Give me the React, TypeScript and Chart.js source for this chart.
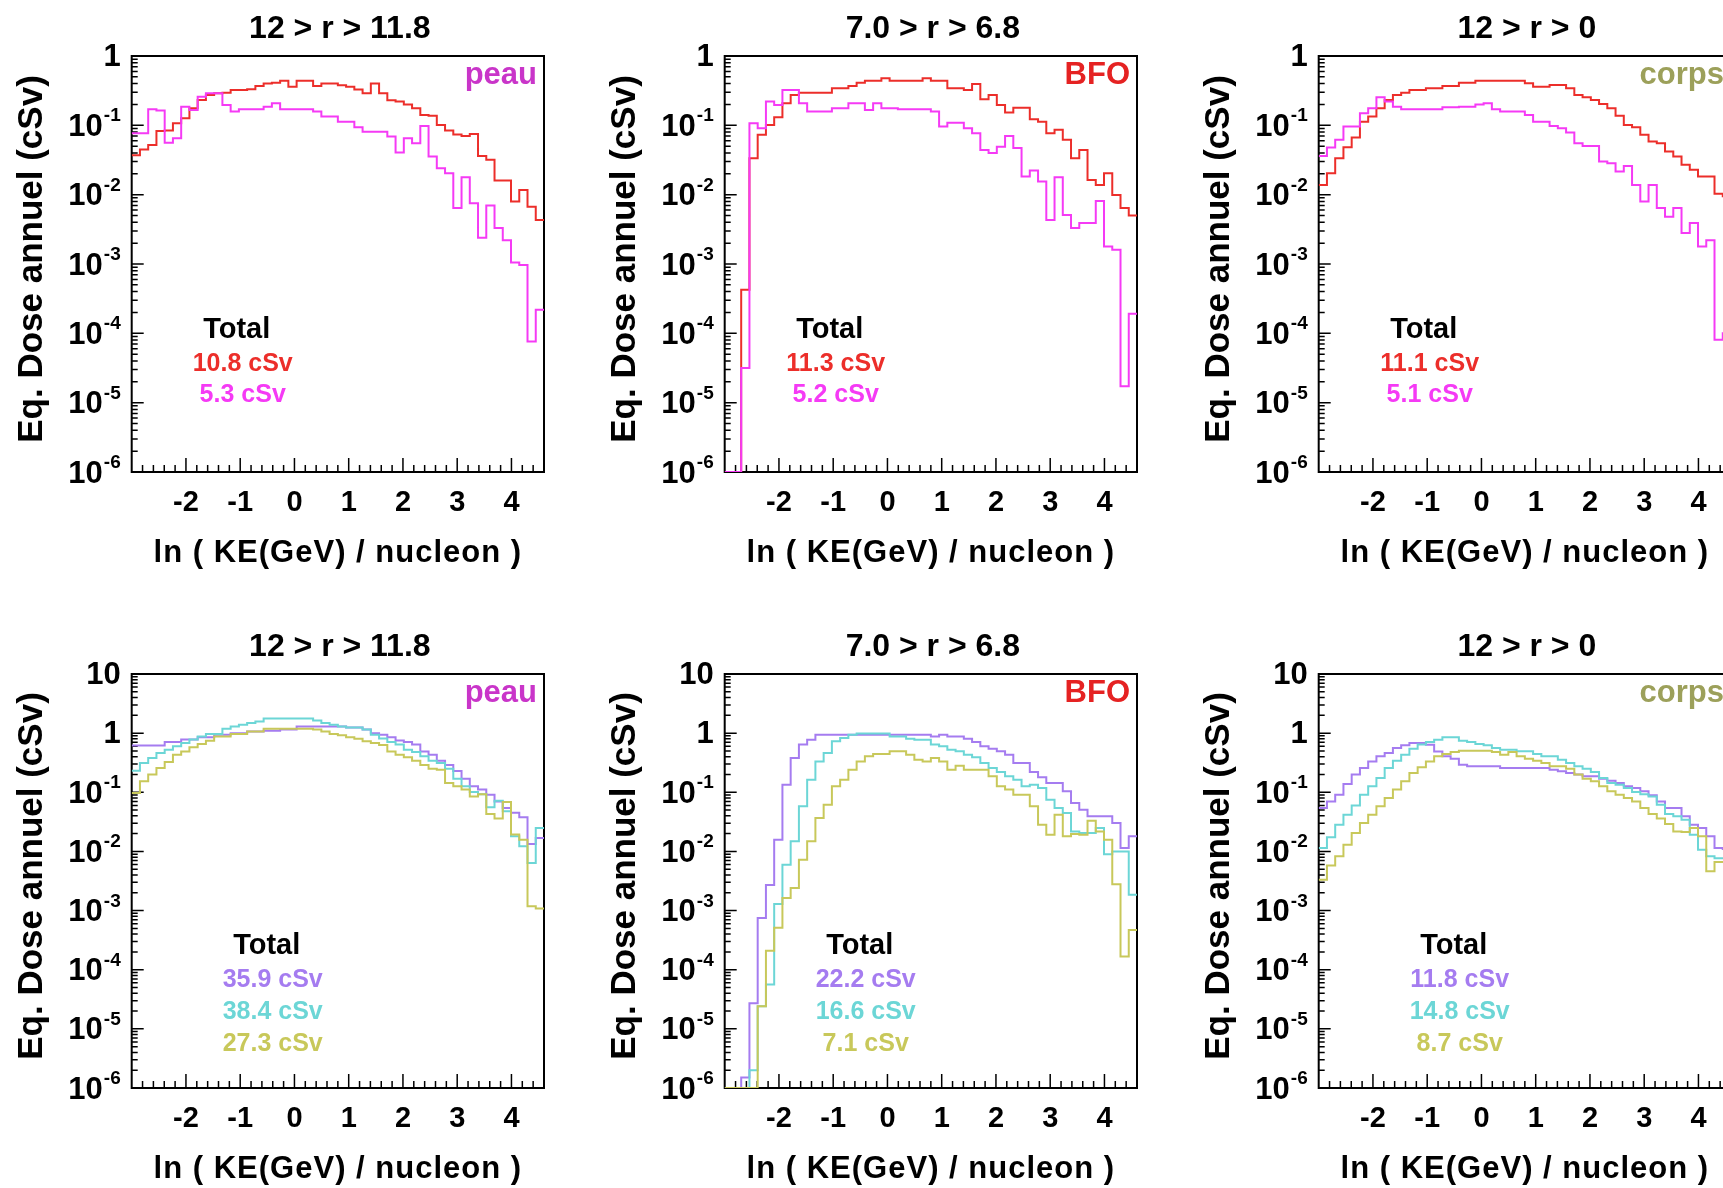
import React, { useEffect, useRef } from "react";
import { Chart, registerables } from "chart.js";
Chart.register(...registerables);

// ---------- DATA ----------
// bin edges in ln(KE(GeV)/nucleon), 50 bins from -3.0 to 4.6
const binEdges = [
  -3.0, -2.848, -2.696, -2.544, -2.392, -2.24, -2.088, -1.936, -1.784, -1.632,
  -1.48, -1.328, -1.176, -1.024, -0.872, -0.72, -0.568, -0.416, -0.264, -0.112,
  0.04, 0.192, 0.344, 0.496, 0.648, 0.8, 0.952, 1.104, 1.256, 1.408,
  1.56, 1.712, 1.864, 2.016, 2.168, 2.32, 2.472, 2.624, 2.776, 2.928,
  3.08, 3.232, 3.384, 3.536, 3.688, 3.84, 3.992, 4.144, 4.296, 4.448, 4.6,
];
const xTickValues = [-2, -1, 0, 1, 2, 3, 4];
const xTickLabels = ["-2", "-1", "0", "1", "2", "3", "4"];
const xTitle = "ln ( KE(GeV) / nucleon )";
const yTitle = "Eq. Dose annuel (cSv)";
const panelTitles = ["12 > r > 11.8", "7.0 > r > 6.8", "12 > r > 0"];
const regionLabels = ["peau", "BFO", "corps"];
const regionColors = ["#c935c9", "#e52222", "#9ca05a"];
const topDecades = [0, -1, -2, -3, -4, -5, -6];
const bottomDecades = [1, 0, -1, -2, -3, -4, -5, -6];

// top row (red / magenta)
const peauTopRed = [0.037, 0.045, 0.052, 0.083, 0.084, 0.107, 0.126, 0.176, 0.232, 0.274, 0.29, 0.296, 0.324, 0.324, 0.331, 0.37, 0.4, 0.41, 0.44, 0.36, 0.44, 0.44, 0.37, 0.4, 0.4, 0.38, 0.36, 0.33, 0.29, 0.4, 0.29, 0.23, 0.22, 0.2, 0.176, 0.141, 0.137, 0.101, 0.084, 0.074, 0.07, 0.075, 0.036, 0.032, 0.016, 0.016, 0.008, 0.0117, 0.0067, 0.0043];
const peauTopMagenta = [0.077, 0.077, 0.17, 0.163, 0.056, 0.065, 0.186, 0.167, 0.259, 0.29, 0.29, 0.197, 0.158, 0.17, 0.17, 0.17, 0.186, 0.208, 0.17, 0.17, 0.17, 0.17, 0.158, 0.134, 0.134, 0.113, 0.113, 0.094, 0.081, 0.081, 0.081, 0.069, 0.0405, 0.065, 0.055, 0.098, 0.0355, 0.024, 0.0204, 0.0064, 0.0179, 0.0075, 0.0024, 0.007, 0.0033, 0.0022, 0.00105, 0.00097, 0.0000765, 0.000219];
const bfoTopRed = [1e-6, 1e-6, 0.000425, 0.0335, 0.073, 0.101, 0.131, 0.208, 0.274, 0.296, 0.296, 0.296, 0.296, 0.342, 0.342, 0.37, 0.413, 0.441, 0.441, 0.477, 0.441, 0.441, 0.441, 0.441, 0.477, 0.441, 0.441, 0.342, 0.342, 0.324, 0.395, 0.238, 0.274, 0.197, 0.153, 0.18, 0.18, 0.122, 0.113, 0.077, 0.086, 0.062, 0.0335, 0.044, 0.0163, 0.0138, 0.0204, 0.0099, 0.0064, 0.005];
const bfoTopMagenta = [1e-6, 1e-6, 0.0000316, 0.107, 0.091, 0.22, 0.197, 0.324, 0.324, 0.208, 0.158, 0.158, 0.158, 0.176, 0.176, 0.208, 0.208, 0.167, 0.208, 0.176, 0.176, 0.17, 0.17, 0.17, 0.17, 0.158, 0.096, 0.109, 0.109, 0.091, 0.077, 0.044, 0.04, 0.049, 0.07, 0.047, 0.0183, 0.0223, 0.0155, 0.0043, 0.0179, 0.0051, 0.0033, 0.0039, 0.0039, 0.0081, 0.00179, 0.0016, 0.0000172, 0.000192];
const corpsTopRed = [0.0138, 0.0204, 0.0335, 0.0483, 0.0666, 0.113, 0.134, 0.176, 0.232, 0.274, 0.296, 0.324, 0.324, 0.342, 0.342, 0.37, 0.37, 0.413, 0.413, 0.441, 0.441, 0.441, 0.441, 0.441, 0.441, 0.404, 0.361, 0.361, 0.382, 0.382, 0.342, 0.274, 0.254, 0.232, 0.203, 0.176, 0.137, 0.101, 0.094, 0.073, 0.0583, 0.0552, 0.0418, 0.0355, 0.0269, 0.0228, 0.0183, 0.0183, 0.0103, 0.0095];
const corpsTopMagenta = [0.036, 0.048, 0.062, 0.096, 0.096, 0.149, 0.176, 0.254, 0.22, 0.186, 0.17, 0.17, 0.17, 0.17, 0.17, 0.182, 0.182, 0.186, 0.186, 0.2, 0.208, 0.17, 0.158, 0.158, 0.158, 0.141, 0.113, 0.113, 0.098, 0.091, 0.0786, 0.0552, 0.0505, 0.0505, 0.03, 0.0284, 0.0216, 0.026, 0.0138, 0.008, 0.0138, 0.0064, 0.0048, 0.0064, 0.0028, 0.0039, 0.00179, 0.0022, 0.000081, 0.0001];

// bottom row (purple / cyan / olive)
const peauBotPurple = [0.62, 0.62, 0.62, 0.62, 0.71, 0.71, 0.78, 0.78, 0.85, 0.85, 0.94, 0.94, 1.0, 1.0, 1.07, 1.07, 1.1, 1.1, 1.15, 1.15, 1.3, 1.3, 1.3, 1.3, 1.3, 1.3, 1.25, 1.25, 1.15, 1.0, 0.94, 0.85, 0.75, 0.71, 0.64, 0.49, 0.43, 0.34, 0.29, 0.23, 0.17, 0.126, 0.111, 0.091, 0.07, 0.054, 0.045, 0.038, 0.0133, 0.0169];
const peauBotCyan = [0.232, 0.313, 0.38, 0.46, 0.525, 0.6, 0.68, 0.78, 0.88, 0.97, 0.97, 1.19, 1.3, 1.39, 1.48, 1.58, 1.76, 1.76, 1.76, 1.76, 1.76, 1.76, 1.63, 1.48, 1.39, 1.3, 1.25, 1.25, 1.15, 0.94, 0.81, 0.71, 0.64, 0.525, 0.48, 0.405, 0.342, 0.313, 0.251, 0.17, 0.126, 0.101, 0.093, 0.056, 0.072, 0.048, 0.018, 0.0122, 0.0064, 0.025];
const peauBotOlive = [0.097, 0.153, 0.2, 0.258, 0.325, 0.43, 0.49, 0.575, 0.656, 0.746, 0.88, 0.88, 0.97, 0.97, 1.07, 1.07, 1.19, 1.19, 1.19, 1.19, 1.19, 1.19, 1.15, 1.07, 0.97, 0.92, 0.85, 0.8, 0.726, 0.68, 0.63, 0.49, 0.43, 0.39, 0.342, 0.29, 0.25, 0.24, 0.144, 0.126, 0.111, 0.085, 0.093, 0.043, 0.036, 0.0685, 0.0193, 0.0157, 0.00118, 0.00108];
const bfoBotPurple = [1e-6, 1e-6, 1.5e-6, 0.000027, 0.00075, 0.0027, 0.0158, 0.134, 0.38, 0.64, 0.776, 0.94, 0.94, 0.94, 0.94, 0.94, 0.94, 0.94, 0.94, 0.94, 0.94, 0.94, 0.94, 0.94, 0.94, 0.88, 0.94, 0.88, 0.88, 0.805, 0.708, 0.598, 0.546, 0.492, 0.432, 0.313, 0.313, 0.22, 0.179, 0.144, 0.144, 0.104, 0.0658, 0.0508, 0.0392, 0.0392, 0.0392, 0.0302, 0.0114, 0.018];
const bfoBotCyan = [1e-6, 1e-6, 1e-6, 2e-6, 0.000024, 0.000056, 0.00129, 0.00597, 0.0148, 0.0578, 0.163, 0.333, 0.461, 0.726, 0.828, 0.94, 0.99, 0.99, 0.99, 0.99, 0.88, 0.88, 0.8, 0.776, 0.776, 0.64, 0.598, 0.525, 0.492, 0.432, 0.39, 0.313, 0.257, 0.22, 0.186, 0.163, 0.126, 0.134, 0.118, 0.075, 0.054, 0.0446, 0.0218, 0.0205, 0.0205, 0.0249, 0.009, 0.01, 0.01, 0.00185];
const bfoBotOlive = [1e-6, 1e-6, 1e-6, 1e-6, 0.000024, 0.00021, 0.00051, 0.00163, 0.0024, 0.00725, 0.0148, 0.0367, 0.0616, 0.126, 0.163, 0.241, 0.333, 0.405, 0.444, 0.444, 0.492, 0.492, 0.432, 0.356, 0.333, 0.38, 0.333, 0.241, 0.28, 0.241, 0.241, 0.241, 0.186, 0.126, 0.111, 0.091, 0.091, 0.0578, 0.0283, 0.0192, 0.0418, 0.018, 0.0197, 0.0192, 0.0331, 0.0218, 0.0158, 0.0028, 0.000168, 0.00047];
const corpsBotPurple = [0.054, 0.07, 0.091, 0.138, 0.2, 0.258, 0.333, 0.405, 0.461, 0.561, 0.622, 0.68, 0.68, 0.638, 0.49, 0.405, 0.37, 0.293, 0.275, 0.275, 0.275, 0.275, 0.258, 0.258, 0.258, 0.258, 0.258, 0.258, 0.241, 0.226, 0.212, 0.2, 0.186, 0.186, 0.17, 0.157, 0.144, 0.126, 0.118, 0.104, 0.0887, 0.07, 0.054, 0.054, 0.0392, 0.0283, 0.0249, 0.018, 0.0114, 0.011];
const corpsBotCyan = [0.0114, 0.0173, 0.0283, 0.0418, 0.06, 0.091, 0.126, 0.174, 0.258, 0.342, 0.432, 0.546, 0.64, 0.708, 0.776, 0.85, 0.85, 0.746, 0.708, 0.656, 0.622, 0.561, 0.525, 0.525, 0.492, 0.492, 0.444, 0.405, 0.405, 0.356, 0.313, 0.275, 0.251, 0.22, 0.174, 0.144, 0.134, 0.118, 0.101, 0.093, 0.085, 0.0616, 0.043, 0.0392, 0.0344, 0.0192, 0.0107, 0.0083, 0.0077, 0.0077];
const corpsBotOlive = [0.00333, 0.0058, 0.0083, 0.013, 0.0205, 0.0302, 0.0418, 0.0578, 0.08, 0.111, 0.153, 0.212, 0.264, 0.333, 0.405, 0.444, 0.48, 0.505, 0.505, 0.505, 0.505, 0.48, 0.432, 0.48, 0.405, 0.37, 0.342, 0.313, 0.275, 0.275, 0.251, 0.2, 0.17, 0.153, 0.126, 0.104, 0.091, 0.08, 0.07, 0.054, 0.043, 0.036, 0.029, 0.0218, 0.0213, 0.0249, 0.018, 0.0046, 0.0066, 0.0066];

const topTotals = [["10.8 cSv", "5.3 cSv"], ["11.3 cSv", "5.2 cSv"], ["11.1 cSv", "5.1 cSv"]];
const bottomTotals = [["35.9 cSv", "38.4 cSv", "27.3 cSv"], ["22.2 cSv", "16.6 cSv", "7.1 cSv"], ["11.8 cSv", "14.8 cSv", "8.7 cSv"]];

const RED = "#ec2e2a";
const MAGENTA = "#f53af5";
const PURPLE = "#a57cf0";
const CYAN = "#6cd6d6";
const OLIVE = "#c8c85a";
const topColors = [RED, MAGENTA];
const bottomColors = [PURPLE, CYAN, OLIVE];
const topSeries = [[peauTopRed, peauTopMagenta], [bfoTopRed, bfoTopMagenta], [corpsTopRed, corpsTopMagenta]];
const bottomSeries = [[peauBotPurple, peauBotCyan, peauBotOlive], [bfoBotPurple, bfoBotCyan, bfoBotOlive], [corpsBotPurple, corpsBotCyan, corpsBotOlive]];

// ---------- LAYOUT ----------
const FONT = '"Liberation Sans", Arial, Helvetica, sans-serif';
const CW = 593;
const CH = 618;
const colLeft = [0, 593, 1187];
const rowTop = [0, 618];

type Panel = {
  title: string;
  region: string;
  regionColor: string;
  decades: number[];
  series: number[][];
  colors: string[];
  totals: string[];
  bottomRow: boolean;
};

function txt(ctx: CanvasRenderingContext2D, s: string, x: number, y: number, size: number, color: string, align: CanvasTextAlign = "center", baseline: CanvasTextBaseline = "middle", spacing = 0) {
  ctx.font = `bold ${size}px ${FONT}`;
  ctx.fillStyle = color;
  ctx.textAlign = align;
  ctx.textBaseline = baseline;
  (ctx as any).letterSpacing = spacing + "px";
  ctx.fillText(s, x, y);
  (ctx as any).letterSpacing = "0px";
}

function makePlugin(p: Panel) {
  return {
    id: "rootStyle",
    beforeDatasetsDraw(chart: any) {
      const { ctx, chartArea: a, scales } = chart;
      const xs = scales.x;
      const ys = scales.y;
      ctx.save();
      ctx.strokeStyle = "#000";
      ctx.lineWidth = 1.5;
      ctx.beginPath();
      const maxExp = p.decades[0];
      const minExp = p.decades[p.decades.length - 1];
      for (let d = minExp; d <= maxExp; d++) {
        const py = ys.getPixelForValue(Math.pow(10, d));
        ctx.moveTo(a.left, py);
        ctx.lineTo(a.left + 12, py);
        if (d < maxExp) {
          for (let m = 2; m <= 9; m++) {
            const pm = ys.getPixelForValue(m * Math.pow(10, d));
            ctx.moveTo(a.left, pm);
            ctx.lineTo(a.left + 6, pm);
          }
        }
      }
      for (let i = -15; i <= 23; i++) {
        const px = xs.getPixelForValue(i * 0.2);
        if (px <= a.left + 1 || px >= a.right - 1) continue;
        const major = i % 5 === 0;
        ctx.moveTo(px, a.bottom);
        ctx.lineTo(px, a.bottom - (major ? 14 : 7));
      }
      ctx.stroke();
      ctx.lineWidth = 2;
      ctx.strokeRect(a.left, a.top, a.right - a.left, a.bottom - a.top);
      ctx.restore();
    },
    afterDraw(chart: any) {
      const { ctx, chartArea: a, scales } = chart;
      const xs = scales.x;
      const ys = scales.y;
      ctx.save();
      // y tick labels
      for (const d of p.decades) {
        const py = ys.getPixelForValue(Math.pow(10, d));
        const right = a.left - 11;
        if (d === 0) {
          txt(ctx, "1", right, py + 1, 31, "#000", "right", "middle");
        } else if (d === 1) {
          txt(ctx, "10", right, py + 1, 31, "#000", "right", "middle");
        } else {
          ctx.font = `bold 19px ${FONT}`;
          const sup = String(d);
          const sw = ctx.measureText(sup).width;
          txt(ctx, sup, right, py - 4, 19, "#000", "right", "alphabetic");
          txt(ctx, "10", right - sw - 1, py + 2, 31, "#000", "right", "middle");
        }
      }
      // x tick labels
      xTickValues.forEach((v, i) => {
        const px = xs.getPixelForValue(v);
        txt(ctx, xTickLabels[i], px, a.bottom + 31, 29, "#000", "center", "middle");
      });
      const cx = (a.left + a.right) / 2;
      // axis titles
      txt(ctx, xTitle, cx, a.bottom + 81, 31, "#000", "center", "middle", 1);
      ctx.save();
      ctx.translate(a.left - 99, (a.top + a.bottom) / 2 - 5);
      ctx.rotate(-Math.PI / 2);
      txt(ctx, yTitle, 0, 0, 35, "#000", "center", "middle");
      ctx.restore();
      // panel title
      txt(ctx, p.title, cx + 2, a.top - 27, 32, "#000", "center", "middle", 0);
      // region label
      txt(ctx, p.region, a.right - 7, a.top + 28, 31, p.regionColor, "right", "alphabetic");
      // totals
      const tx = a.left + (p.bottomRow ? 135 : 105);
      txt(ctx, "Total", tx, a.top + (p.bottomRow ? 272 : 274), 29, "#000", "center", "middle");
      p.totals.forEach((t, i) => {
        const ty = a.top + (p.bottomRow ? 306 + 32 * i : 308 + 31 * i);
        txt(ctx, t, tx + 6, ty, 25, p.colors[i], "center", "middle");
      });
      ctx.restore();
    },
  };
}

function PanelChart({ panel, left, top }: { panel: Panel; left: number; top: number }) {
  const ref = useRef<HTMLCanvasElement | null>(null);
  useEffect(() => {
    if (!ref.current) return;
    const frameBottom = panel.bottomRow ? 470 : 472;
    const chart = new Chart(ref.current, {
      type: "line",
      data: {
        datasets: panel.series.map((vals, si) => ({
          data: binEdges.map((x, i) => ({ x, y: vals[Math.min(i, vals.length - 1)] })),
          borderColor: panel.colors[si],
          borderWidth: 2,
          pointRadius: 0,
          stepped: true,
          fill: false,
          tension: 0,
          order: panel.series.length - si,
          borderCapStyle: "butt",
          borderJoinStyle: "miter",
        })),
      },
      options: {
        animation: false,
        responsive: false,
        events: [],
        layout: { padding: { left: 131.7, top: 56, right: CW - 544, bottom: CH - frameBottom } },
        plugins: { legend: { display: false }, tooltip: { enabled: false }, title: { display: false } },
        scales: {
          x: { type: "linear", min: -3, max: 4.6, display: false },
          y: { type: "logarithmic", min: 1e-6, max: Math.pow(10, panel.decades[0]), display: false },
        },
      } as any,
      plugins: [makePlugin(panel)],
    });
    return () => chart.destroy();
  }, [panel]);
  return (
    <canvas
      ref={ref}
      width={CW}
      height={CH}
      style={{ position: "absolute", left, top, width: CW, height: CH, display: "block" }}
    />
  );
}

const panels: { panel: Panel; left: number; top: number }[] = [];
for (let c = 0; c < 3; c++) {
  panels.push({
    left: colLeft[c],
    top: rowTop[0],
    panel: {
      title: panelTitles[c],
      region: regionLabels[c],
      regionColor: regionColors[c],
      decades: topDecades,
      series: topSeries[c],
      colors: topColors,
      totals: topTotals[c],
      bottomRow: false,
    },
  });
}
for (let c = 0; c < 3; c++) {
  panels.push({
    left: colLeft[c],
    top: rowTop[1],
    panel: {
      title: panelTitles[c],
      region: regionLabels[c],
      regionColor: regionColors[c],
      decades: bottomDecades,
      series: bottomSeries[c],
      colors: bottomColors,
      totals: bottomTotals[c],
      bottomRow: true,
    },
  });
}

export default function App() {
  return (
    <div
      style={{
        position: "fixed",
        left: 0,
        top: 0,
        width: 1723,
        height: 1188,
        overflow: "hidden",
        background: "#fff",
      }}
    >
      {panels.map((p, i) => (
        <PanelChart key={i} panel={p.panel} left={p.left} top={p.top} />
      ))}
    </div>
  );
}
